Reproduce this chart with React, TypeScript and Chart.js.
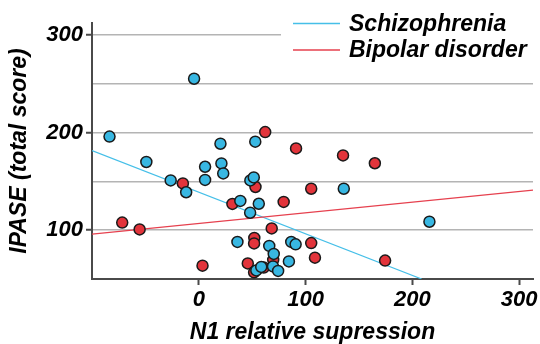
import React, { useEffect, useRef } from "react";
import { Chart, registerables } from "chart.js";

Chart.register(...registerables);

// Schizophrenia points (N1 relative suppression, IPASE total score)
const schizX = [-83.6, -49.1, -26.3, -11.8, -4.4, 5.9, 5.9, 21.2, 22.9, 20.3, 52.9, 48.3, 51.5, 38.9, 56.2, 48.1, 36.2, 66.0, 70.2, 69.5, 74.3, 53.9, 58.5, 86.6, 90.7, 84.4, 135.8, 216.0];
const schizY = [195.9, 169.9, 151.0, 138.9, 255.2, 165.0, 151.5, 168.4, 158.2, 188.6, 190.7, 151.0, 154.1, 130.0, 127.1, 117.9, 88.0, 83.9, 75.7, 62.9, 58.3, 58.8, 62.4, 88.0, 85.5, 68.0, 142.5, 108.7];

// Bipolar disorder points
const bipolarX = [-14.9, 62.2, 53.1, 31.5, 79.5, 68.3, 52.0, 51.8, 69.7, 3.5, 45.9, 51.8, 60.8, -71.7, -55.4, 91.1, 135.1, 164.9, 105.3, 105.3, 108.8, 174.5];
const bipolarY = [147.9, 200.5, 144.3, 126.9, 129.0, 101.8, 92.1, 86.5, 69.6, 63.7, 66.0, 56.8, 61.7, 107.8, 100.8, 183.8, 176.6, 168.6, 142.5, 86.8, 71.9, 68.9];

// Regression line endpoints
const schizLineX = [-100, 208.7];
const schizLineY = [181.5, 50];
const bipolarLineX = [-100, 313];
const bipolarLineY = [95.9, 141.0];

const xTicks = [0, 100, 200, 300];
const yTicks = [100, 150, 200, 250, 300];

const seriesNames = ["Schizophrenia", "Bipolar disorder"];

const BLUE = "#38b7e2";
const RED = "#e2343b";
const BLUE_LINE = "#45bfe8";
const RED_LINE = "#e6404e";
const AXIS = "#4a4a4a";
const GRID = "#b4b4b4";
const FONT = "'Liberation Sans', Arial, sans-serif";

const zip = (xs: number[], ys: number[]) => xs.map((x, i) => ({ x, y: ys[i] }));

const legendPlugin = {
  id: "customLegend",
  afterDraw(chart: any) {
    const ctx = chart.ctx;
    ctx.save();
    ctx.fillStyle = "#ffffff";
    ctx.fillRect(281, 2, 259, 62);
    const rows = [
      { name: seriesNames[0], color: BLUE_LINE, y: 23.5 },
      { name: seriesNames[1], color: RED_LINE, y: 50 },
    ];
    ctx.font = `italic bold 23px ${FONT}`;
    ctx.textBaseline = "middle";
    ctx.textAlign = "left";
    for (const r of rows) {
      ctx.strokeStyle = r.color;
      ctx.lineWidth = 1.5;
      ctx.beginPath();
      ctx.moveTo(293, r.y);
      ctx.lineTo(340, r.y);
      ctx.stroke();
      ctx.fillStyle = "#000";
      ctx.fillText(r.name, 349, r.y + 1);
    }
    ctx.restore();
  },
};

export default function App() {
  const ref = useRef<HTMLCanvasElement | null>(null);
  useEffect(() => {
    document.body.style.margin = "0";
    const canvas = ref.current!;
    const tickFont = { family: FONT, size: 22, weight: "bold" as const, style: "italic" as const };
    const chart = new Chart(canvas, {
      type: "scatter",
      data: {
        datasets: [
          {
            type: "line",
            data: zip(schizLineX, schizLineY),
            borderColor: BLUE_LINE,
            borderWidth: 1.2,
            pointRadius: 0,
            fill: false,
            order: 4,
          } as any,
          {
            type: "line",
            data: zip(bipolarLineX, bipolarLineY),
            borderColor: RED_LINE,
            borderWidth: 1.2,
            pointRadius: 0,
            fill: false,
            order: 3,
          } as any,
          {
            label: seriesNames[1],
            data: zip(bipolarX, bipolarY),
            backgroundColor: RED,
            borderColor: "#1a1a1a",
            borderWidth: 1.5,
            pointRadius: 5.5,
            order: 2,
          },
          {
            label: seriesNames[0],
            data: zip(schizX, schizY),
            backgroundColor: BLUE,
            borderColor: "#1a1a1a",
            borderWidth: 1.5,
            pointRadius: 5.5,
            order: 1,
          },
        ],
      },
      options: {
        responsive: false,
        animation: false,
        layout: { padding: { top: 23, right: 5, left: 0, bottom: 0 } },
        plugins: { legend: { display: false }, tooltip: { enabled: false } },
        scales: {
          x: {
            type: "linear",
            min: -100,
            max: 313,
            afterBuildTicks: (scale: any) => {
              scale.ticks = xTicks.map((v) => ({ value: v }));
            },
            afterFit: (scale: any) => {
              scale.height = 65;
            },
            grid: { drawOnChartArea: false, tickLength: 6, tickColor: AXIS, tickWidth: 2 },
            border: { color: AXIS, width: 2 },
            ticks: { font: tickFont, color: "#000", padding: 2, maxRotation: 0 },
            title: {
              display: true,
              text: "N1 relative supression",
              font: { ...tickFont, size: 23, lineHeight: 1 },
              color: "#000",
              padding: { top: 0, bottom: 0 },
            },
          },
          y: {
            type: "linear",
            min: 50,
            max: 312.3,
            afterBuildTicks: (scale: any) => {
              scale.ticks = yTicks.map((v) => ({ value: v }));
            },
            afterFit: (scale: any) => {
              scale.width = 92;
            },
            grid: {
              color: GRID,
              lineWidth: 1.5,
              tickLength: 6,
              tickWidth: 2,
              tickColor: (c: any) => (c.tick && c.tick.value % 100 === 0 ? AXIS : "rgba(0,0,0,0)"),
            },
            border: { color: AXIS, width: 2 },
            ticks: {
              font: tickFont,
              color: "#000",
              padding: 3,
              callback: (v: any) => (Number(v) % 100 === 0 ? String(v) : ""),
            },
            title: {
              display: true,
              text: "IPASE (total score)",
              font: { ...tickFont, size: 23, lineHeight: 1 },
              color: "#000",
              padding: { top: 8, bottom: 0 },
            },
          },
        },
      },
      plugins: [legendPlugin],
    });
    return () => chart.destroy();
  }, []);
  return (
    <div style={{ width: 540, height: 344 }}>
      <canvas ref={ref} width={540} height={344} />
    </div>
  );
}
